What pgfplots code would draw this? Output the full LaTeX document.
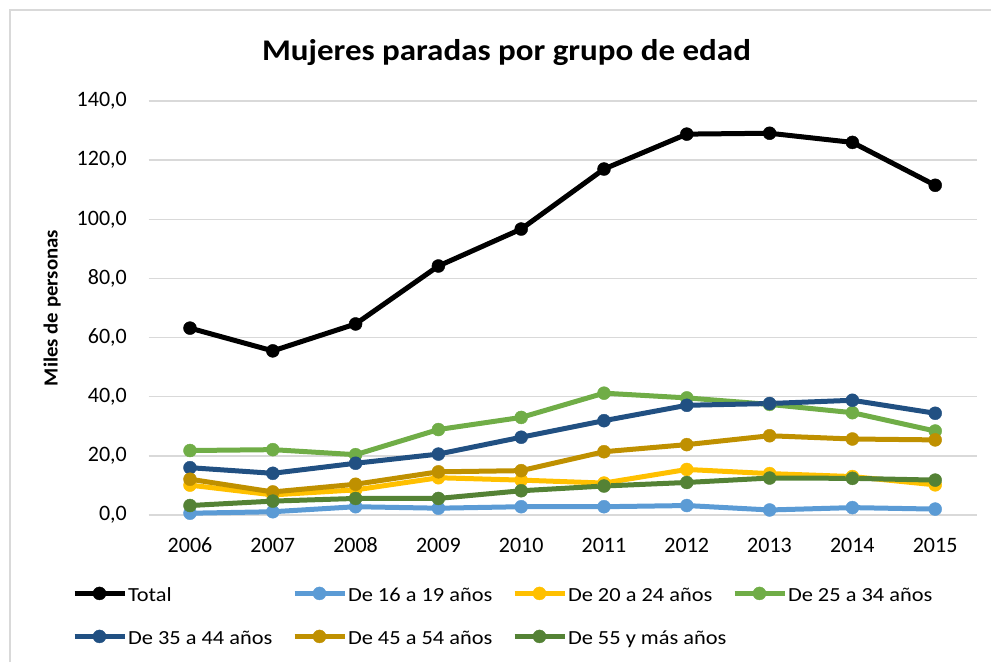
\documentclass[border=0pt]{standalone}
\usepackage{pgfplots}
\pgfplotsset{compat=1.18}
\usepackage{fontspec}
\setmainfont{Carlito}
\newfontfamily\titlefont[FakeStretch=1.10]{Carlito}
\newfontfamily\legfont[FakeStretch=1.12]{Carlito}
\newfontfamily\labfont[FakeStretch=1.04]{Carlito}
\definecolor{cTotal}{HTML}{000000}
\definecolor{cA}{HTML}{5B9BD5}
\definecolor{cB}{HTML}{FFC000}
\definecolor{cC}{HTML}{70AD47}
\definecolor{cD}{HTML}{215082}
\definecolor{cE}{HTML}{BF9000}
\definecolor{cF}{HTML}{548235}
\definecolor{gridc}{HTML}{D9D9D9}
\begin{document}
\begin{tikzpicture}
\begin{axis}[
  at={(0pt,0pt)}, anchor=south west,
  scale only axis, width=828pt, height=414pt,
  xmin=2005.5, xmax=2015.5, ymin=0, ymax=140,
  xtick={2006,...,2015}, ytick={0,20,...,140},
  clip=false,
  axis line style={draw=none}, major tick length=0pt,
  ymajorgrids, grid style={draw=gridc, line width=1.5pt},
  /pgf/number format/assume math mode=true,
  yticklabel={\pgfmathprintnumber[fixed, fixed zerofill, precision=1, use comma, 1000 sep={}]{\tick}},
  xticklabel={\pgfmathprintnumber[fixed, precision=0, 1000 sep={}]{\tick}},
  ticklabel style={font=\fontsize{22}{26}\selectfont, inner sep=0pt},
  yticklabel style={anchor=east, xshift=-21.6pt},
  xticklabel style={anchor=north, yshift=-22.7pt},
  ylabel={Miles de personas},
  ylabel style={at={(axis description cs:-0.1165,0.5)}, anchor=center, font=\fontsize{20}{24}\labfont\bfseries},
  every axis plot/.append style={line width=5pt, mark=*, mark size=6.5pt, mark options={solid, line width=0.4pt}},
  legend image code/.code={\draw[mark repeat=2, mark phase=2, #1] plot coordinates {(0pt,0pt) (25pt,0pt) (50pt,0pt)};},
  legend columns=4,
  legend style={at={(-0.0925,-0.1625)}, anchor=north west, draw=none, fill=none,
    inner sep=0pt, outer sep=0pt, column sep=0pt, row sep=20.7pt,
    font=\fontsize{20}{24}\legfont, nodes={inner xsep=1pt, inner ysep=2pt}},
]
\addplot[color=cTotal] coordinates {(2006,63.2) (2007,55.5) (2008,64.6) (2009,84.2) (2010,96.7) (2011,117.0) (2012,128.8) (2013,129.1) (2014,126.0) (2015,111.5)};
\addlegendentry{\makebox[163pt][l]{\strut Total}}
\addplot[color=cA] coordinates {(2006,0.6) (2007,1.1) (2008,2.8) (2009,2.3) (2010,2.8) (2011,2.8) (2012,3.2) (2013,1.7) (2014,2.5) (2015,2.0)};
\addlegendentry{\makebox[163pt][l]{\strut De 16 a 19 años}}
\addplot[color=cB] coordinates {(2006,10.1) (2007,6.8) (2008,8.5) (2009,12.6) (2010,11.8) (2011,10.8) (2012,15.4) (2013,14.0) (2014,13.0) (2015,10.2)};
\addlegendentry{\makebox[163pt][l]{\strut De 20 a 24 años}}
\addplot[color=cC] coordinates {(2006,21.8) (2007,22.1) (2008,20.4) (2009,28.9) (2010,33.0) (2011,41.2) (2012,39.6) (2013,37.4) (2014,34.6) (2015,28.4)};
\addlegendentry{\makebox[163pt][l]{\strut De 25 a 34 años}}
\addplot[color=cD] coordinates {(2006,16.0) (2007,14.1) (2008,17.5) (2009,20.6) (2010,26.3) (2011,31.9) (2012,37.1) (2013,37.7) (2014,38.8) (2015,34.4)};
\addlegendentry{\makebox[163pt][l]{\strut De 35 a 44 años}}
\addplot[color=cE] coordinates {(2006,12.1) (2007,7.8) (2008,10.4) (2009,14.6) (2010,15.0) (2011,21.4) (2012,23.8) (2013,26.8) (2014,25.7) (2015,25.4)};
\addlegendentry{\makebox[163pt][l]{\strut De 45 a 54 años}}
\addplot[color=cF] coordinates {(2006,3.2) (2007,4.7) (2008,5.6) (2009,5.6) (2010,8.2) (2011,9.8) (2012,11.0) (2013,12.5) (2014,12.4) (2015,11.8)};
\addlegendentry{\makebox[163pt][l]{\strut De 55 y más años}}
\end{axis}
\draw[gridc, line width=1.5pt] (-138.6pt,-147pt) -- (-138.6pt,505pt) -- (842.4pt,505pt);
\node[font=\fontsize{30}{36}\titlefont\bfseries] at (357.9pt,462pt) {Mujeres paradas por grupo de edad};
\pgfresetboundingbox
\path[use as bounding box] (-148.6pt,-147pt) rectangle (842.4pt,515pt);
\end{tikzpicture}
\end{document}
